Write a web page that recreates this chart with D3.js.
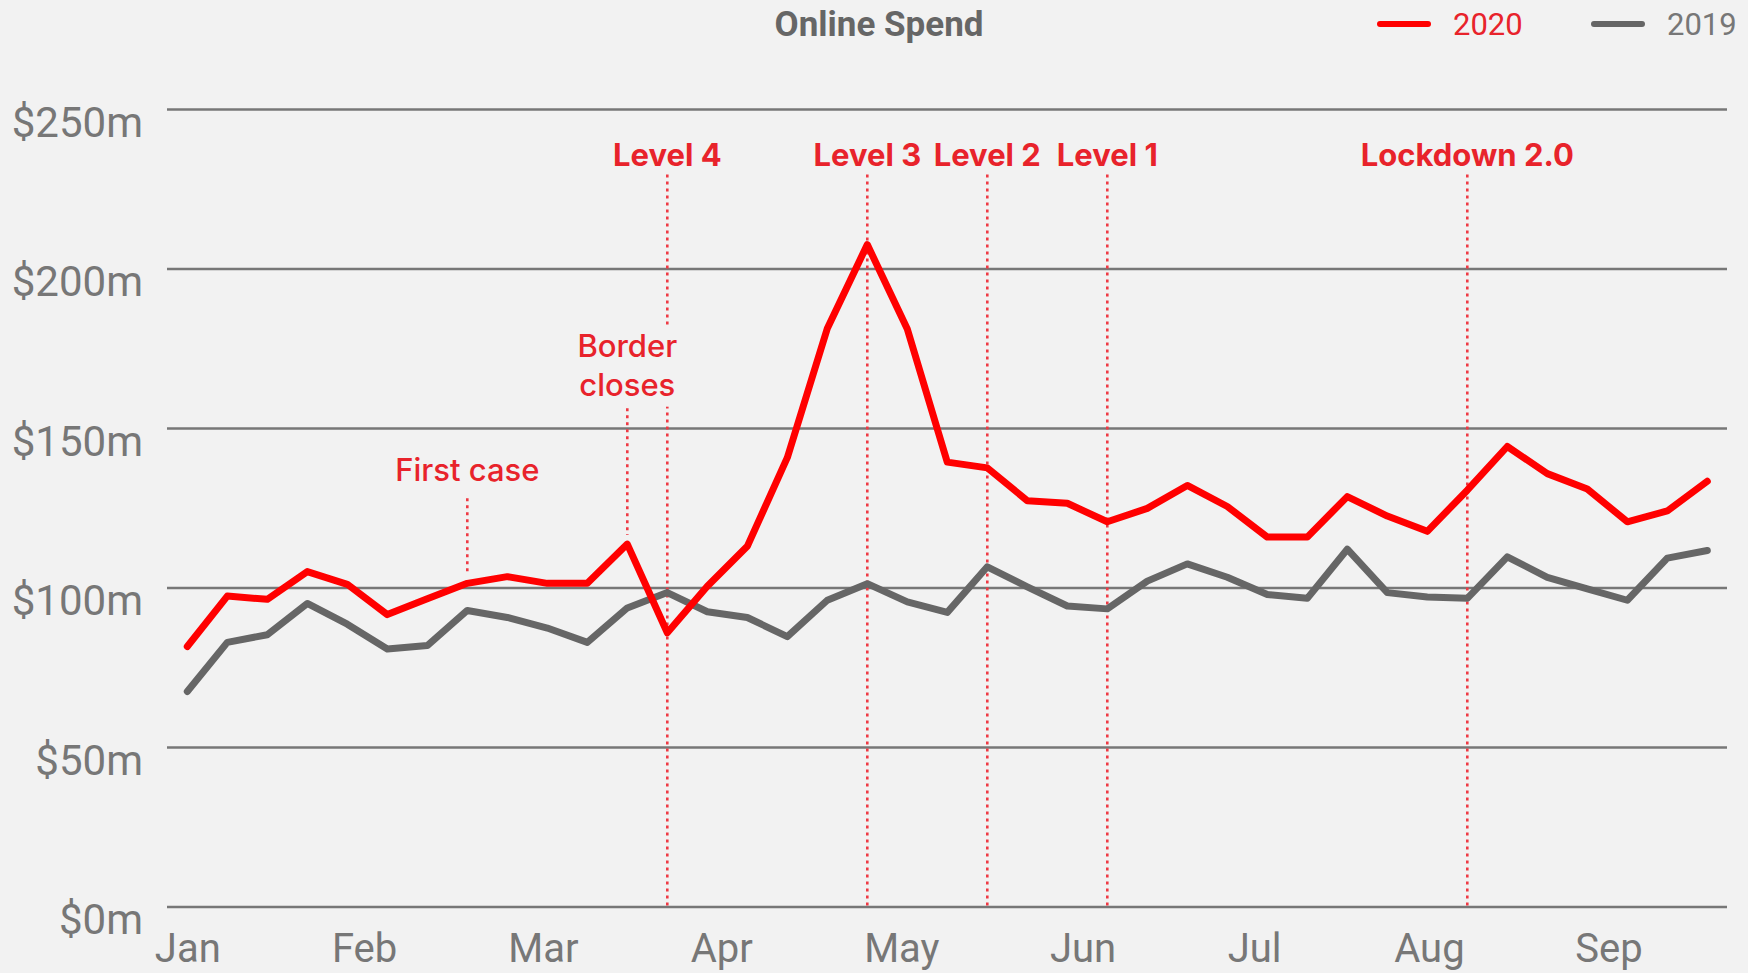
<!DOCTYPE html>
<html>
<head>
<meta charset="utf-8">
<script src="https://cdn.jsdelivr.net/npm/d3@7"></script>
<style>
  html, body { margin: 0; padding: 0; background: #f2f2f2; }
  svg { display: block; }
  .axis-label { font-family: Roboto, sans-serif; fill: #777; }
  .note { font-family: Inter, "Open Sans", sans-serif; fill: #e8232b; }
</style>
</head>
<body>
<div id="chart"></div>
<script>
// weekly online spend, $m, first week of Jan to late Sep
var spend2020 = [81.5, 97.3, 96.3, 105, 101, 91.5, 96.5, 101.3, 103.4, 101.3,
                 101.3, 113.6, 85.8, 100.4, 112.9, 140.7, 181.2, 207.5, 181, 139.3,
                 137.5, 127.2, 126.4, 120.6, 124.8, 132, 125.4, 115.8, 115.8, 128.5,
                 122.4, 117.6, 130.5, 144.2, 135.7, 130.9, 120.6, 124, 133.3];
var spend2019 = [67.4, 82.8, 85.2, 95, 88.5, 80.7, 81.8, 92.8, 90.6, 87.3,
                 82.8, 93.6, 98.4, 92.4, 90.6, 84.6, 96, 101.2, 95.5, 92.2,
                 106.5, 100.2, 94.2, 93.3, 102, 107.4, 103.2, 97.8, 96.6, 112,
                 98.4, 97, 96.6, 109.6, 103.2, 99.6, 96, 109.2, 111.6];

var monthLabels = ["Jan", "Feb", "Mar", "Apr", "May", "Jun", "Jul", "Aug", "Sep"];
var monthWeeks  = [0, 4.42, 8.89, 13.35, 17.85, 22.38, 26.67, 31.04, 35.53];

var yTicks = [0, 50, 100, 150, 200, 250];

var eventNames = ["First case", "Border closes", "Level 4", "Level 3", "Level 2", "Level 1", "Lockdown 2.0"];
var eventWeeks = [7, 11, 12, 17, 20, 23, 32];

var width = 1748;
var height = 973;

var svg = d3.select("#chart").append("svg")
  .attr("width", width)
  .attr("height", height);

svg.append("rect").attr("width", width).attr("height", height).attr("fill", "#f2f2f2");

/* Scales */
var xScale = d3.scaleLinear()
  .domain([0, spend2020.length - 1])
  .range([187.3, 1707.3]);

var yScale = d3.scaleLinear()
  .domain([0, 250])
  .range([906.5, 109]);

var gridLeft = 167, gridRight = 1727;

/* Gridlines + y labels */
var yAxis = d3.axisLeft(yScale)
  .tickValues(yTicks)
  .tickSize(-(gridRight - gridLeft))
  .tickFormat(d => "$" + d + "m");

var gy = svg.append("g")
  .attr("transform", `translate(${gridLeft},0)`)
  .call(yAxis);
gy.select(".domain").remove();
gy.selectAll(".tick line")
  .attr("stroke", "#777")
  .attr("stroke-width", 2.5);
gy.selectAll(".tick text")
  .attr("class", "axis-label")
  .attr("x", -24)
  .attr("dy", 27)
  .attr("font-size", 42)
  .attr("text-anchor", "end");

/* Month labels */
var xAxis = d3.axisBottom(xScale)
  .tickValues(monthWeeks)
  .tickSize(0)
  .tickFormat((d, i) => monthLabels[i]);

var gx = svg.append("g")
  .attr("transform", `translate(0,${yScale(0)})`)
  .call(xAxis);
gx.select(".domain").remove();
gx.selectAll(".tick text")
  .attr("class", "axis-label")
  .attr("y", 55)
  .attr("dy", 0)
  .attr("font-size", 40);

/* Event markers */
// label baseline (in $m) and how the dotted line runs for each event
var topBase = 232;
var noteLayout = {
  "First case":    { lines: ["First case"], base: 133.3, weight: 500, lineTop: 128, toLine: true },
  "Border closes": { lines: ["Border", "closes"], base: 172.2, weight: 500, lineTop: 156.2, toLine: true }
};

var notes = svg.append("g");
var noteLines = notes.append("g");
var noteText = notes.append("g");

eventNames.forEach(function(name, i) {
  var w = eventWeeks[i];
  var lay = noteLayout[name] || { lines: [name], base: topBase, weight: 700, lineTop: 229.5, toLine: false };
  var x = xScale(w);
  var y1 = yScale(lay.lineTop);
  var y2 = lay.toLine ? yScale(spend2020[w]) - 9 : yScale(0);

  noteLines.append("line")
    .attr("x1", x).attr("x2", x)
    .attr("y1", y1).attr("y2", y2)
    .attr("stroke", "#ee3a44")
    .attr("stroke-width", 2.6)
    .attr("stroke-dasharray", "3,4");

  var t = noteText.append("g");
  var txt = t.append("text")
    .attr("class", "note")
    .attr("text-anchor", "middle")
    .attr("font-size", 31)
    .attr("font-weight", lay.weight);
  lay.lines.forEach(function(s, k) {
    txt.append("tspan")
      .attr("x", x)
      .attr("y", yScale(lay.base) + k * 38.5)
      .text(s);
  });

  // multi-line labels sit on a background patch so the dotted line behind breaks
  if (lay.lines.length > 1) {
    var bb = txt.node().getBBox();
    t.insert("rect", "text")
      .attr("x", bb.x - 4).attr("y", bb.y - 2)
      .attr("width", bb.width + 8).attr("height", bb.height + 6)
      .attr("fill", "#f2f2f2");
  }
});

/* Series lines */
var line = d3.line()
  .x((d, i) => xScale(i))
  .y(d => yScale(d));

var series = [
  { name: "2019", values: spend2019, color: "#666666" },
  { name: "2020", values: spend2020, color: "#ff0000" }
];

svg.append("g")
  .selectAll("path")
  .data(series).enter()
  .append("path")
  .attr("d", d => line(d.values))
  .attr("fill", "none")
  .attr("stroke", d => d.color)
  .attr("stroke-width", 7)
  .attr("stroke-linejoin", "round")
  .attr("stroke-linecap", "round");

// labels above the data lines
svg.node().appendChild(noteText.node());

/* Title */
svg.append("text")
  .attr("x", 879)
  .attr("y", 36)
  .attr("text-anchor", "middle")
  .attr("font-family", "Roboto, sans-serif")
  .attr("font-weight", 700)
  .attr("font-size", 35)
  .attr("fill", "#666")
  .text("Online Spend");

/* Legend */
var legendItems = [
  { name: "2020", color: "#ff0000", text: "#e8232b", x: 1378 },
  { name: "2019", color: "#666666", text: "#777", x: 1592 }
];
var lg = svg.append("g").selectAll("g")
  .data(legendItems).enter()
  .append("g")
  .attr("transform", d => `translate(${d.x},24)`);
lg.append("line")
  .attr("x1", 2).attr("x2", 50)
  .attr("stroke", d => d.color)
  .attr("stroke-width", 6)
  .attr("stroke-linecap", "round");
lg.append("text")
  .attr("x", 75)
  .attr("y", 10.5)
  .attr("font-family", "Roboto, sans-serif")
  .attr("font-size", 31)
  .attr("fill", d => d.text)
  .text(d => d.name);
</script>
</body>
</html>
